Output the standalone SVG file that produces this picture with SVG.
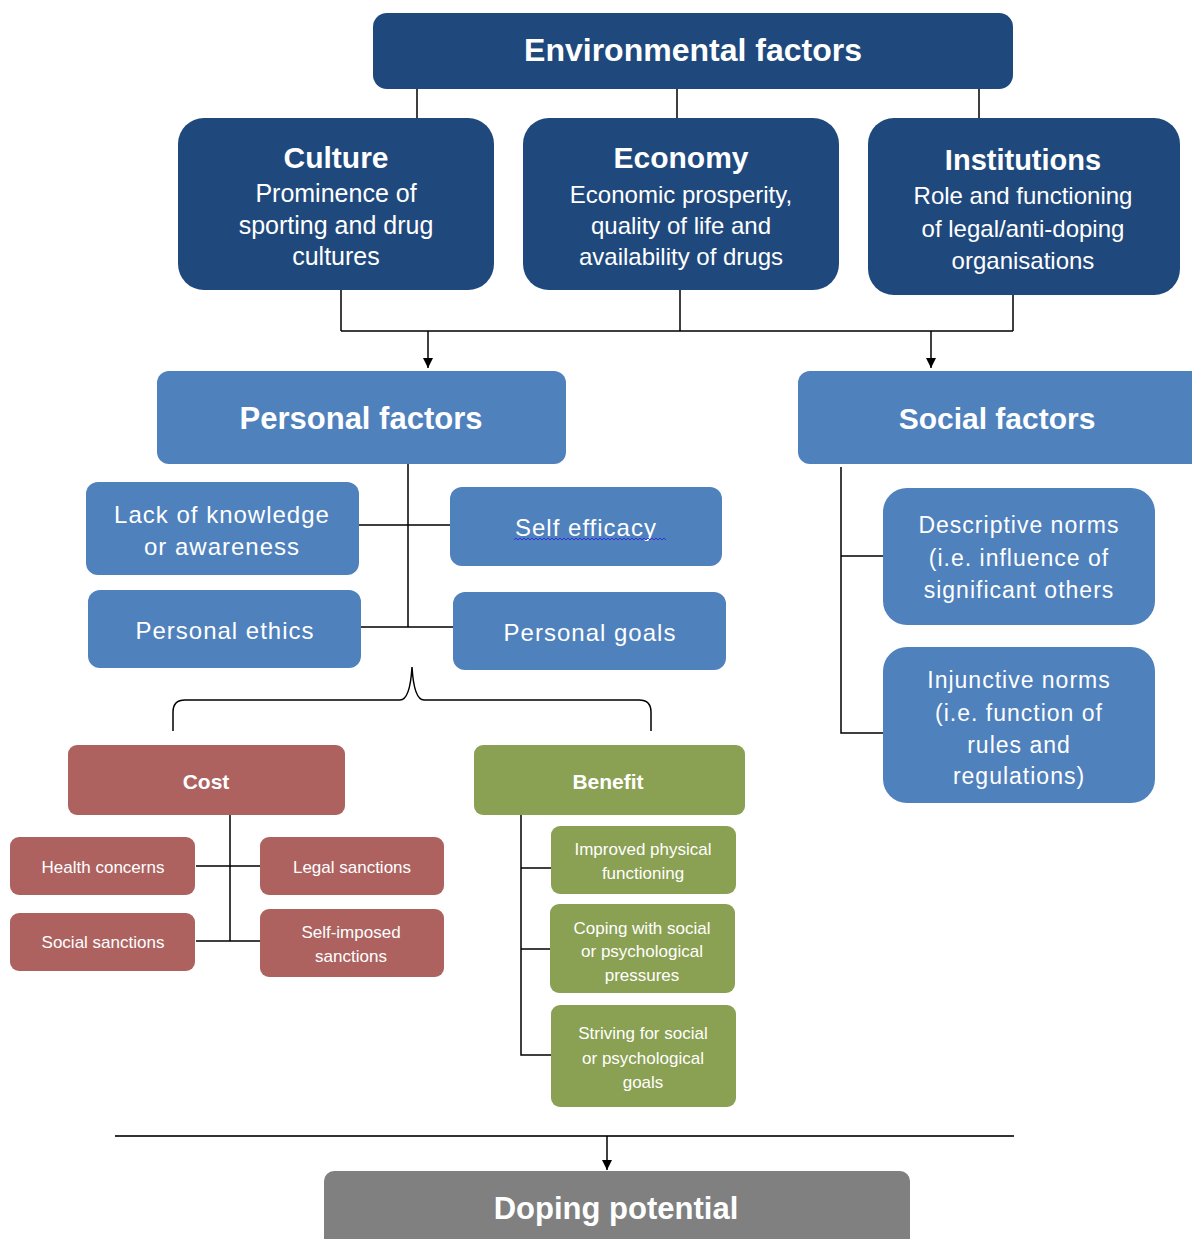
<svg xmlns="http://www.w3.org/2000/svg" width="1192" height="1239" viewBox="0 0 1192 1239">
<defs>
<marker id="arr" viewBox="0 0 10 10" refX="10" refY="5" markerWidth="10" markerHeight="10" markerUnits="userSpaceOnUse" orient="auto">
<path d="M0,0 L10,5 L0,10 Z" fill="#000"/>
</marker>
<style>
.dark{fill:#1F497D}
.mid{fill:#4F81BD}
.red{fill:#AD6260}
.grn{fill:#8AA052}
.gry{fill:#808080}
text{fill:#fff;text-anchor:middle;dominant-baseline:central;font-family:"Liberation Sans",Arial,sans-serif}
.b{font-weight:bold}
.gs{letter-spacing:1px}
.ln{stroke:#000;stroke-width:1.5;fill:none}
</style>
</defs>
<rect width="1192" height="1239" fill="#fff"/>

<g id="connectors">
<path class="ln" d="M417,89 V118 M677,89 V118 M979,89 V118"/>
<path class="ln" d="M341,290 V331 M680,290 V331 M1013,295 V331 M341,331 H1013"/>
<path class="ln" d="M428,331 V368" marker-end="url(#arr)"/>
<path class="ln" d="M931,331 V368" marker-end="url(#arr)"/>
<path class="ln" d="M408,462 V627 M359,525 H450 M361,627 H453"/>
<path class="ln" d="M173,731 L173,712 Q173,700 185,700 L400,700 Q410,700 412,667 Q414,700 424,700 L639,700 Q651,700 651,712 L651,731"/>
<path class="ln" d="M230,815 V941 M196,866 H260 M196,941 H260"/>
<path class="ln" d="M521,815 V1055 H551 M521,868 H551 M521,949 H550"/>
<path class="ln" d="M841,467 V733 H883 M841,556 H883"/>
<path d="M115,1136 H1014" stroke="#333" stroke-width="2"/>
<path class="ln" d="M607,1136 V1170" marker-end="url(#arr)"/>
</g>

<g id="environmental">
<rect class="dark" x="373" y="13" width="640" height="76" rx="14"/>
<text class="b" x="693" y="50" font-size="32">Environmental factors</text>
</g>

<g id="culture">
<rect class="dark" x="178" y="118" width="316" height="172" rx="26"/>
<text class="b" x="336" y="157" font-size="30">Culture</text>
<text x="336" y="193" font-size="25">Prominence of</text>
<text x="336" y="225" font-size="25">sporting and drug</text>
<text x="336" y="256" font-size="25">cultures</text>
</g>

<g id="economy">
<rect class="dark" x="523" y="118" width="316" height="172" rx="26"/>
<text class="b" x="681" y="157" font-size="30">Economy</text>
<text x="681" y="194" font-size="24">Economic prosperity,</text>
<text x="681" y="225" font-size="24">quality of life and</text>
<text x="681" y="256" font-size="24">availability of drugs</text>
</g>

<g id="institutions">
<rect class="dark" x="868" y="118" width="312" height="177" rx="26"/>
<text class="b" x="1023" y="160" font-size="29">Institutions</text>
<text x="1023" y="195" font-size="24">Role and functioning</text>
<text x="1023" y="228" font-size="24">of legal/anti-doping</text>
<text x="1023" y="260" font-size="24">organisations</text>
</g>

<g id="personal">
<rect class="mid" x="157" y="371" width="409" height="93" rx="12"/>
<text class="b" x="361" y="418" font-size="31">Personal factors</text>
</g>

<g id="social">
<rect class="mid" x="798" y="371" width="410" height="93" rx="12"/>
<text class="b" x="997" y="418" font-size="30">Social factors</text>
</g>

<g id="lack">
<rect class="mid" x="86" y="482" width="273" height="93" rx="12"/>
<text class="gs" x="222" y="514" font-size="24">Lack of knowledge</text>
<text class="gs" x="222" y="546" font-size="24">or awareness</text>
</g>

<g id="selfefficacy">
<rect class="mid" x="450" y="487" width="272" height="79" rx="12"/>
<text class="gs" x="586" y="527" font-size="24">Self efficacy</text>
<path d="M514,540 l2,-2 l2,2 l2,-2 l2,2 l2,-2 l2,2 l2,-2 l2,2 l2,-2 l2,2 l2,-2 l2,2 l2,-2 l2,2 l2,-2 l2,2 l2,-2 l2,2 l2,-2 l2,2 l2,-2 l2,2 l2,-2 l2,2 l2,-2 l2,2 l2,-2 l2,2 l2,-2 l2,2 l2,-2 l2,2 l2,-2 l2,2 l2,-2 l2,2 l2,-2 l2,2 l2,-2 l2,2 l2,-2 l2,2 l2,-2 l2,2 l2,-2 l2,2 l2,-2 l2,2 l2,-2 l2,2 l2,-2 l2,2 l2,-2 l2,2 l2,-2 l2,2 l2,-2 l2,2 l2,-2 l2,2 l2,-2 l2,2 l2,-2 l2,2 l2,-2 l2,2 l2,-2 l2,2 l2,-2 l2,2 l2,-2 l2,2 l2,-2 l2,2 l2,-2 l2,2" stroke="#3333dd" stroke-width="1" fill="none"/>
</g>

<g id="ethics">
<rect class="mid" x="88" y="590" width="273" height="78" rx="12"/>
<text class="gs" x="225" y="630" font-size="24">Personal ethics</text>
</g>

<g id="goals">
<rect class="mid" x="453" y="592" width="273" height="78" rx="12"/>
<text class="gs" x="590" y="632" font-size="24">Personal goals</text>
</g>

<g id="descriptive">
<rect class="mid" x="883" y="488" width="272" height="137" rx="24"/>
<text class="gs" x="1019" y="525" font-size="23">Descriptive norms</text>
<text class="gs" x="1019" y="558" font-size="23">(i.e. influence of</text>
<text class="gs" x="1019" y="590" font-size="23">significant others</text>
</g>

<g id="injunctive">
<rect class="mid" x="883" y="647" width="272" height="156" rx="24"/>
<text class="gs" x="1019" y="680" font-size="23">Injunctive norms</text>
<text class="gs" x="1019" y="713" font-size="23">(i.e. function of</text>
<text class="gs" x="1019" y="745" font-size="23">rules and</text>
<text class="gs" x="1019" y="776" font-size="23">regulations)</text>
</g>

<g id="cost">
<rect class="red" x="68" y="745" width="277" height="70" rx="9"/>
<text class="b" x="206" y="781" font-size="21">Cost</text>
</g>

<g id="benefit">
<rect class="grn" x="474" y="745" width="271" height="70" rx="9"/>
<text class="b" x="608" y="781" font-size="21">Benefit</text>
</g>

<g id="health">
<rect class="red" x="10" y="837" width="185" height="58" rx="9"/>
<text x="103" y="867" font-size="17">Health concerns</text>
</g>

<g id="legal">
<rect class="red" x="260" y="837" width="184" height="58" rx="9"/>
<text x="352" y="867" font-size="17">Legal sanctions</text>
</g>

<g id="socialsanctions">
<rect class="red" x="10" y="913" width="185" height="58" rx="9"/>
<text x="103" y="942" font-size="17">Social sanctions</text>
</g>

<g id="selfimposed">
<rect class="red" x="260" y="909" width="184" height="68" rx="9"/>
<text x="351" y="932" font-size="17">Self-imposed</text>
<text x="351" y="956" font-size="17">sanctions</text>
</g>

<g id="improved">
<rect class="grn" x="551" y="826" width="185" height="68" rx="9"/>
<text x="643" y="849" font-size="17">Improved physical</text>
<text x="643" y="873" font-size="17">functioning</text>
</g>

<g id="coping">
<rect class="grn" x="550" y="904" width="185" height="89" rx="9"/>
<text x="642" y="928" font-size="17">Coping with social</text>
<text x="642" y="951" font-size="17">or psychological</text>
<text x="642" y="975" font-size="17">pressures</text>
</g>

<g id="striving">
<rect class="grn" x="551" y="1005" width="185" height="102" rx="9"/>
<text x="643" y="1033" font-size="17">Striving for social</text>
<text x="643" y="1058" font-size="17">or psychological</text>
<text x="643" y="1082" font-size="17">goals</text>
</g>

<g id="doping">
<rect class="gry" x="324" y="1171" width="586" height="90" rx="10"/>
<text class="b" x="616" y="1208" font-size="31">Doping potential</text>
</g>
</svg>
